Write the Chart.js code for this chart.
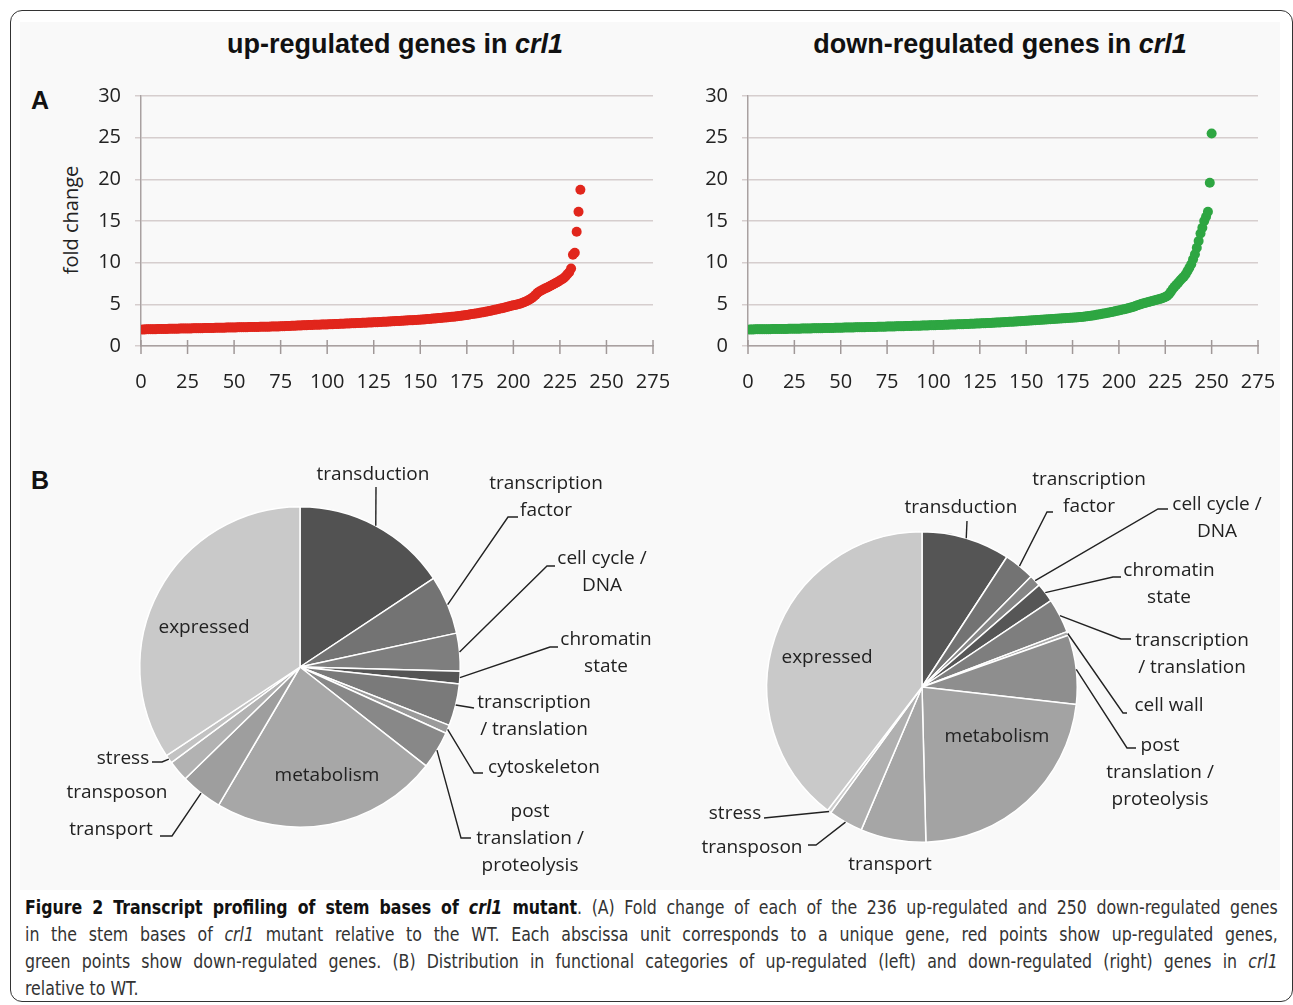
<!DOCTYPE html>
<html>
<head>
<meta charset="utf-8">
<script src="https://cdn.jsdelivr.net/npm/chart.js@4.4.1/dist/chart.umd.min.js"></script>
<style>
  body { margin: 0; width: 1293px; height: 1005px; background: #fff; position: relative; overflow: hidden; font-family: "Open Sans", sans-serif; }
  .frame { position: absolute; left: 10px; top: 10px; width: 1281px; height: 990px; border: 1.5px solid #333; border-radius: 12px; }
  .panel { position: absolute; left: 20px; top: 22px; width: 1260px; height: 868px; background: #f9f9f9; }
  .title { position: absolute; top: 29px; font: bold 27px "Liberation Sans", Arial, sans-serif; color: #111; transform: translateX(-50%); white-space: nowrap; }
  .letter { position: absolute; font: bold 25px "Liberation Sans", Arial, sans-serif; color: #111; }
  .ylab { position: absolute; left: 70px; top: 220px; font-size: 20px; color: #222; transform: translate(-50%, -50%) rotate(-90deg); white-space: nowrap; }
  canvas { position: absolute; }
  .caption { position: absolute; left: 25px; top: 894px; width: 1392px; transform: scaleX(0.9); transform-origin: 0 0; font: 19.5px "Liberation Sans Narrow", "DejaVu Sans Condensed", sans-serif; color: #333; }
  .caption div { height: 27px; line-height: 27px; white-space: nowrap; text-align: justify; text-align-last: justify; }
  .caption div.last { text-align-last: left; }
  .caption b { color: #111; }
</style>
</head>
<body>
<div class="panel"></div>
<div class="frame"></div>

<div class="title" style="left:395px">up-regulated genes in <i>crl1</i></div>
<div class="title" style="left:1000px">down-regulated genes in <i>crl1</i></div>
<div class="letter" style="left:31px; top:86px">A</div>
<div class="letter" style="left:31px; top:466px">B</div>
<div class="ylab">fold change</div>

<canvas id="upChart" width="660" height="340" style="left:20px; top:60px"></canvas>
<canvas id="downChart" width="610" height="340" style="left:680px; top:60px"></canvas>
<canvas id="upPie" width="640" height="450" style="left:20px; top:440px"></canvas>
<canvas id="downPie" width="610" height="450" style="left:680px; top:440px"></canvas>

<div class="caption">
  <div><b>Figure 2 Transcript profiling of stem bases of <i>crl1</i> mutant</b>. (A) Fold change of each of the 236 up-regulated and 250 down-regulated genes</div>
  <div>in the stem bases of <i>crl1</i> mutant relative to the WT. Each abscissa unit corresponds to a unique gene, red points show up-regulated genes,</div>
  <div>green points show down-regulated genes. (B) Distribution in functional categories of up-regulated (left) and down-regulated (right) genes in <i>crl1</i></div>
  <div class="last">relative to WT.</div>
</div>

<script>
// fold change of the 236 up-regulated genes, sorted
const upValues = [
  1.98,1.99,2.00,2.00,2.01,2.01,2.02,2.02,2.03,2.03,
  2.04,2.04,2.05,2.05,2.06,2.06,2.07,2.07,2.08,2.08,
  2.09,2.09,2.10,2.10,2.10,2.11,2.11,2.12,2.12,2.13,
  2.13,2.14,2.14,2.15,2.15,2.16,2.16,2.17,2.17,2.18,
  2.18,2.19,2.19,2.20,2.20,2.21,2.21,2.22,2.22,2.23,
  2.23,2.24,2.24,2.25,2.25,2.26,2.26,2.27,2.27,2.28,
  2.28,2.29,2.29,2.30,2.30,2.31,2.31,2.32,2.32,2.33,
  2.33,2.34,2.35,2.35,2.36,2.37,2.38,2.39,2.40,2.41,
  2.42,2.43,2.44,2.45,2.46,2.47,2.48,2.49,2.50,2.51,
  2.52,2.53,2.54,2.54,2.55,2.56,2.57,2.57,2.58,2.59,
  2.60,2.61,2.62,2.63,2.64,2.65,2.66,2.67,2.68,2.69,
  2.70,2.71,2.72,2.73,2.74,2.75,2.76,2.77,2.78,2.79,
  2.80,2.81,2.82,2.83,2.84,2.85,2.86,2.87,2.89,2.90,
  2.91,2.92,2.94,2.95,2.96,2.97,2.99,3.00,3.01,3.03,
  3.04,3.05,3.07,3.08,3.09,3.10,3.12,3.13,3.14,3.15,
  3.17,3.19,3.21,3.23,3.25,3.27,3.29,3.31,3.33,3.35,
  3.37,3.39,3.41,3.43,3.45,3.47,3.50,3.52,3.55,3.57,
  3.60,3.63,3.66,3.70,3.73,3.76,3.80,3.83,3.87,3.90,
  3.94,3.98,4.02,4.06,4.10,4.15,4.19,4.24,4.29,4.34,
  4.39,4.44,4.49,4.54,4.60,4.65,4.71,4.77,4.83,4.88,
  4.93,4.98,5.04,5.10,5.18,5.27,5.37,5.48,5.60,5.75,
  5.95,6.15,6.38,6.55,6.65,6.78,6.90,7.00,7.12,7.24,
  7.36,7.48,7.60,7.72,7.85,7.98,8.12,8.35,8.60,8.85,
  9.30,10.95,11.20,13.70,16.10,18.75
];

// fold change of the 250 down-regulated genes, sorted
const downValues = [
  1.98,1.99,1.99,2.00,2.00,2.00,2.01,2.01,2.01,2.02,
  2.02,2.02,2.03,2.03,2.03,2.04,2.04,2.04,2.05,2.05,
  2.05,2.06,2.06,2.06,2.07,2.07,2.08,2.08,2.09,2.09,
  2.10,2.10,2.11,2.11,2.12,2.12,2.13,2.13,2.14,2.14,
  2.15,2.15,2.16,2.16,2.17,2.17,2.18,2.18,2.19,2.20,
  2.20,2.21,2.21,2.22,2.22,2.23,2.23,2.24,2.24,2.25,
  2.25,2.26,2.26,2.27,2.27,2.28,2.28,2.29,2.29,2.30,
  2.30,2.31,2.31,2.32,2.33,2.33,2.34,2.34,2.35,2.36,
  2.36,2.37,2.38,2.38,2.39,2.40,2.40,2.41,2.42,2.42,
  2.43,2.44,2.44,2.45,2.46,2.46,2.47,2.48,2.49,2.50,
  2.50,2.51,2.52,2.53,2.53,2.54,2.55,2.56,2.57,2.57,
  2.58,2.59,2.60,2.61,2.62,2.62,2.63,2.64,2.65,2.66,
  2.67,2.68,2.69,2.70,2.71,2.72,2.73,2.74,2.75,2.76,
  2.77,2.78,2.79,2.81,2.82,2.83,2.84,2.86,2.87,2.88,
  2.90,2.91,2.92,2.94,2.95,2.97,2.98,3.00,3.01,3.03,
  3.04,3.06,3.07,3.09,3.10,3.12,3.13,3.15,3.16,3.18,
  3.19,3.21,3.22,3.24,3.25,3.27,3.28,3.30,3.31,3.33,
  3.34,3.36,3.37,3.39,3.40,3.42,3.43,3.45,3.47,3.49,
  3.51,3.54,3.57,3.60,3.63,3.66,3.70,3.74,3.78,3.82,
  3.86,3.90,3.94,3.98,4.02,4.07,4.12,4.17,4.22,4.27,
  4.32,4.37,4.42,4.47,4.53,4.59,4.65,4.72,4.80,4.88,
  4.96,5.04,5.10,5.16,5.22,5.28,5.34,5.40,5.46,5.52,
  5.58,5.64,5.70,5.78,5.88,6.00,6.20,6.50,6.85,7.10,
  7.35,7.60,7.85,8.10,8.30,8.60,9.00,9.40,9.80,10.40,
  11.00,11.80,12.60,13.50,14.20,15.00,15.50,16.10,19.60,25.50
];

const xTicks = [0, 25, 50, 75, 100, 125, 150, 175, 200, 225, 250, 275];
const yTicks = [0, 5, 10, 15, 20, 25, 30];

// functional categories (number of genes)
const upCategories = ['transduction', 'transcription\nfactor', 'cell cycle /\nDNA', 'chromatin\nstate',
  'transcription\n/ translation', 'cytoskeleton', 'post\ntranslation /\nproteolysis', 'metabolism',
  'transport', 'transposon', 'stress', 'expressed'];
const upCounts = [37, 14, 9, 3, 10, 2, 9, 54, 10, 5, 2, 81];

const downCategories = ['transduction', 'transcription\nfactor', 'cell cycle /\nDNA', 'chromatin\nstate',
  'transcription\n/ translation', 'cell wall', 'post\ntranslation /\nproteolysis', 'metabolism',
  'transport', 'transposon', 'stress', 'expressed'];
const downCounts = [23, 8, 3, 5, 9, 1, 18, 57, 17, 9, 1, 99];

const upGreys = ['#525252', '#737373', '#7e7e7e', '#555555', '#7a7a7a', '#9a9a9a', '#888888',
  '#a7a7a7', '#9e9e9e', '#b2b2b2', '#c2c2c2', '#c9c9c9'];
const downGreys = ['#555555', '#737373', '#868686', '#565656', '#7e7e7e', '#a8a8a8', '#8e8e8e',
  '#a3a3a3', '#a6a6a6', '#b0b0b0', '#cccccc', '#c9c9c9'];

Chart.defaults.font.family = '"Open Sans", sans-serif';
Chart.defaults.color = '#222';

// ticks that cross the x axis, like the original
const crossTicks = {
    id: 'crossTicks',
    afterDraw(chart) {
        const sx = chart.scales.x, ctx = chart.ctx, b = chart.chartArea.bottom;
        ctx.save();
        ctx.strokeStyle = '#a09898';
        ctx.lineWidth = 1.5;
        sx.ticks.forEach(t => {
            const px = sx.getPixelForValue(t.value);
            ctx.beginPath();
            ctx.moveTo(px, b - 6);
            ctx.lineTo(px, b + 8);
            ctx.stroke();
        });
        ctx.restore();
    }
};

function scatterChart(id, values, color, yWidth, padRight) {
    return new Chart(document.getElementById(id), {
        type: 'scatter',
        data: {
            datasets: [{
                data: values.map((v, i) => ({ x: i + 1, y: v })),
                backgroundColor: color,
                borderWidth: 0,
                pointRadius: 5
            }]
        },
        options: {
            responsive: false,
            animation: false,
            layout: { padding: { top: 36, right: padRight, left: 0, bottom: 0 } },
            plugins: { legend: { display: false }, tooltip: { enabled: false } },
            scales: {
                x: {
                    type: 'linear', min: 0, max: 275,
                    afterBuildTicks: s => { s.ticks = xTicks.map(v => ({ value: v })); },
                    afterFit: s => { s.height = 54; s.paddingLeft = 0; s.paddingRight = 0; },
                    ticks: { font: { size: 20 }, color: '#222', padding: 24, maxRotation: 0 },
                    grid: { display: false, drawTicks: false },
                    border: { color: '#a9a1a1', width: 1.5 }
                },
                y: {
                    min: 0, max: 30,
                    afterBuildTicks: s => { s.ticks = yTicks.map(v => ({ value: v })); },
                    afterFit: s => { s.width = yWidth; s.paddingTop = 0; s.paddingBottom = 0; },
                    ticks: { font: { size: 20 }, color: '#222', padding: 14 },
                    grid: { color: '#d6cece', lineWidth: 1.5, tickLength: 6 },
                    border: { color: '#a9a1a1', width: 1.5 }
                }
            }
        },
        plugins: [crossTicks]
    });
}

scatterChart('upChart', upValues, '#e1261c', 121, 27);
scatterChart('downChart', downValues, '#2ea642', 68, 32);

// labels with leader lines; positions relative to the pie centre
const pieLabels = {
    id: 'pieLabels',
    afterDraw(chart, args, opts) {
        const ctx = chart.ctx;
        const arcs = chart.getDatasetMeta(0).data;
        const names = chart.data.labels;
        const cx = arcs[0].x, cy = arcs[0].y;
        ctx.save();
        ctx.font = '19px "Open Sans", sans-serif';
        ctx.fillStyle = '#222';
        ctx.strokeStyle = '#222';
        ctx.lineWidth = 1.4;
        opts.items.forEach((it, idx) => {
            const arc = arcs[idx];
            if (it.leader) {
                const mid = (arc.startAngle + arc.endAngle) / 2;
                ctx.beginPath();
                ctx.moveTo(cx + it.leader[0][0], cy + it.leader[0][1]);
                it.leader.slice(1).forEach(p => ctx.lineTo(cx + p[0], cy + p[1]));
                ctx.lineTo(cx + Math.cos(mid) * arc.outerRadius, cy + Math.sin(mid) * arc.outerRadius);
                ctx.stroke();
            }
            ctx.textAlign = 'center';
            ctx.textBaseline = 'middle';
            names[idx].split('\n').forEach((line, k) => ctx.fillText(line, cx + it.x, cy + it.y + k * 27));
        });
        ctx.restore();
    }
};

function pieChart(id, names, counts, greys, pad, items) {
    return new Chart(document.getElementById(id), {
        type: 'pie',
        data: {
            labels: names,
            datasets: [{ data: counts, backgroundColor: greys, borderColor: '#ffffff', borderWidth: 1.5 }]
        },
        options: {
            responsive: false,
            animation: false,
            layout: { padding: pad },
            plugins: { legend: { display: false }, tooltip: { enabled: false }, pieLabels: { items: items } }
        },
        plugins: [pieLabels]
    });
}

pieChart('upPie', upCategories, upCounts, upGreys,
    { left: 119, right: 199, top: 66, bottom: 62 },
    [
        { x: 73, y: -192, leader: [[76, -180]] },
        { x: 246, y: -183, leader: [[218, -150], [208, -150]] },
        { x: 302, y: -108, leader: [[255, -101], [247, -101]] },
        { x: 306, y: -27, leader: [[258, -20], [250, -20]] },
        { x: 234, y: 36, leader: [[174, 41]] },
        { x: 244, y: 101, leader: [[183, 106], [174, 106]] },
        { x: 230, y: 145, leader: [[171, 171], [161, 171]] },
        { x: 27, y: 109 },
        { x: -189, y: 163, leader: [[-140, 169], [-128, 169]] },
        { x: -183, y: 126 },
        { x: -177, y: 92, leader: [[-148, 95], [-138, 95]] },
        { x: -96, y: -39 }
    ]);

pieChart('downPie', downCategories, downCounts, downGreys,
    { left: 86, right: 212, top: 91, bottom: 47 },
    [
        { x: 39, y: -179, leader: [[45, -166]] },
        { x: 167, y: -207, leader: [[131, -175], [125, -175]] },
        { x: 295, y: -182, leader: [[246, -178], [236, -178]] },
        { x: 247, y: -116, leader: [[199, -110], [191, -110]] },
        { x: 270, y: -46, leader: [[209, -48], [199, -48]] },
        { x: 247, y: 19, leader: [[205, 26], [201, 26]] },
        { x: 238, y: 59, leader: [[214, 61], [205, 61]] },
        { x: 75, y: 50 },
        { x: -32, y: 178 },
        { x: -170, y: 161, leader: [[-114, 158], [-106, 158]] },
        { x: -187, y: 127, leader: [[-158, 131]] },
        { x: -95, y: -29 }
    ]);
</script>
</body>
</html>
